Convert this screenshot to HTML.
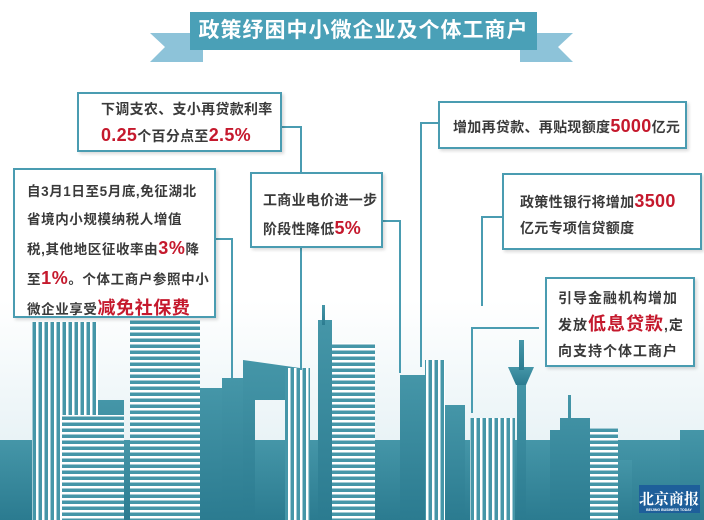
<!DOCTYPE html>
<html><head><meta charset="utf-8"><style>
body{margin:0;width:704px;height:520px;overflow:hidden;background:#fff;position:relative;font-family:"Liberation Sans","Noto Sans CJK SC",sans-serif;font-weight:bold;color:#3a3a3a}
.box{position:absolute;background:#fff;border:2px solid #4a9cb1;box-sizing:border-box;box-shadow:2px 2px 3px rgba(0,0,0,.15);font-size:14px;line-height:26px;letter-spacing:0.3px;white-space:nowrap}
.r{color:#c5192d;font-size:18px}
.ln{position:absolute;background:#4a9cb1}
</style></head><body>
<svg width="704" height="520" style="position:absolute;left:0;top:0">
<defs>
<linearGradient id="g" x1="0" y1="0" x2="0" y2="1"><stop offset="0" stop-color="#4596a8"/><stop offset="1" stop-color="#2b7b90"/></linearGradient>
<linearGradient id="bg" x1="0" y1="0" x2="0" y2="1"><stop offset="0" stop-color="#fff"/><stop offset="1" stop-color="#dcecf1"/></linearGradient>
<pattern id="hs" width="6" height="6" patternUnits="userSpaceOnUse"><rect width="6" height="6" fill="#4596a8"/><rect y="0" width="6" height="2.5" fill="#fff"/></pattern>
<pattern id="vs" width="6" height="6" patternUnits="userSpaceOnUse"><rect width="6" height="6" fill="#4596a8"/><rect x="0" width="2.5" height="6" fill="#fff"/></pattern>
</defs>
<rect x="0" y="300" width="704" height="220" fill="url(#bg)"/>
<polygon points="150,33 203,33 203,62 150,62 165,47" fill="#8dc3d9"/>
<polygon points="573,33 520,33 520,62 573,62 558,47" fill="#8dc3d9"/>
<rect x="190" y="12" width="347" height="38" fill="#4aa0b7"/>
<g fill="url(#g)">
<rect x="0" y="440" width="704" height="80"/>
<rect x="32" y="322" width="66" height="198" fill="url(#vs)"/>
<rect x="98" y="400" width="26" height="120"/>
<rect x="62" y="415" width="62" height="105" fill="url(#hs)"/>
<rect x="130" y="318" width="70" height="202" fill="url(#hs)"/>
<rect x="200" y="388" width="26" height="132"/>
<rect x="222" y="378" width="22" height="142"/>
<polygon points="243,520 243,360 300,368 300,520 285,520 285,400 255,400 255,520"/>
<rect x="285" y="368" width="25" height="152" fill="url(#vs)"/>
<rect x="318" y="320" width="14" height="200"/>
<rect x="322" y="305" width="3" height="20"/>
<rect x="332" y="343" width="43" height="177" fill="url(#hs)"/>
<rect x="375" y="440" width="25" height="80"/>
<rect x="400" y="375" width="25" height="145"/>
<rect x="425" y="360" width="20" height="160" fill="url(#vs)"/>
<rect x="445" y="405" width="20" height="115"/>
<rect x="470" y="418" width="45" height="102" fill="url(#vs)"/>
<rect x="517" y="375" width="9" height="145"/>
<polygon points="508,367 534,367 526,385 516,385"/>
<rect x="519" y="340" width="5" height="30"/>
<rect x="526" y="440" width="24" height="80"/>
<polygon points="550,520 550,430 560,430 560,418 568,418 568,395 571,395 571,418 590,418 590,520"/>
<rect x="590" y="428" width="28" height="92" fill="url(#hs)"/>
<rect x="618" y="460" width="20" height="60"/>
<rect x="632" y="440" width="40" height="80"/>
<rect x="680" y="430" width="24" height="90"/>
</g>
<rect x="639" y="485" width="61" height="28" fill="#1e5f9a"/>
<text x="669" y="504" font-family="Liberation Serif,'Noto Serif CJK SC',serif" font-size="15" fill="#fff" text-anchor="middle" font-weight="bold">北京商报</text>
<text x="669" y="511" font-size="3.5" fill="#fff" text-anchor="middle">BEIJING BUSINESS TODAY</text>
</svg>
<div style="position:absolute;left:190px;top:12px;width:347px;height:38px;line-height:38px;text-align:center;color:#fff;font-size:21px;letter-spacing:1px">政策纾困中小微企业及个体工商户</div>
<div class="ln" style="left:282px;top:126px;width:20px;height:2px"></div>
<div class="ln" style="left:300px;top:126px;width:2px;height:244px"></div>
<div class="ln" style="left:216px;top:238px;width:17px;height:2px"></div>
<div class="ln" style="left:231px;top:238px;width:2px;height:140px"></div>
<div class="ln" style="left:383px;top:220px;width:18px;height:2px"></div>
<div class="ln" style="left:399px;top:220px;width:2px;height:153px"></div>
<div class="ln" style="left:420px;top:122px;width:18px;height:2px"></div>
<div class="ln" style="left:420px;top:122px;width:2px;height:245px"></div>
<div class="ln" style="left:481px;top:216px;width:21px;height:2px"></div>
<div class="ln" style="left:481px;top:216px;width:2px;height:90px"></div>
<div class="ln" style="left:471px;top:327px;width:68px;height:2px"></div>
<div class="ln" style="left:471px;top:327px;width:2px;height:86px"></div>
<div class="box" style="left:77px;top:92px;width:205px;height:60px;padding:2px 0 0 22px">下调支农、支小再贷款利率<br><span class="r">0.25</span>个百分点至<span class="r">2.5%</span></div>
<div class="box" style="left:438px;top:101px;width:249px;height:48px;padding:10px 0 0 13px">增加再贷款、再贴现额度<span class="r">5000</span>亿元</div>
<div class="box" style="left:250px;top:172px;width:133px;height:76px;padding:12px 0 0 11px;line-height:28px">工商业电价进一步<br>阶段性降低<span class="r">5%</span></div>
<div class="box" style="left:13px;top:168px;width:203px;height:150px;padding:8px 0 0 12px;line-height:28px;letter-spacing:0.6px;font-size:13.5px">自3月1日至5月底,免征湖北<br>省境内小规模纳税人增值<br>税,其他地区征收率由<span class="r">3%</span>降<br>至<span class="r">1%</span>。个体工商户参照中小<br>微企业享受<span class="r">减免社保费</span></div>
<div class="box" style="left:502px;top:173px;width:200px;height:77px;padding:13px 0 0 16px;line-height:26px">政策性银行将增加<span class="r">3500</span><br>亿元专项信贷额度</div>
<div class="box" style="left:545px;top:277px;width:150px;height:90px;padding:6px 0 0 11px;line-height:26px;letter-spacing:1px">引导金融机构增加<br>发放<span class="r">低息贷款</span>,定<br>向支持个体工商户</div>
</body></html>
